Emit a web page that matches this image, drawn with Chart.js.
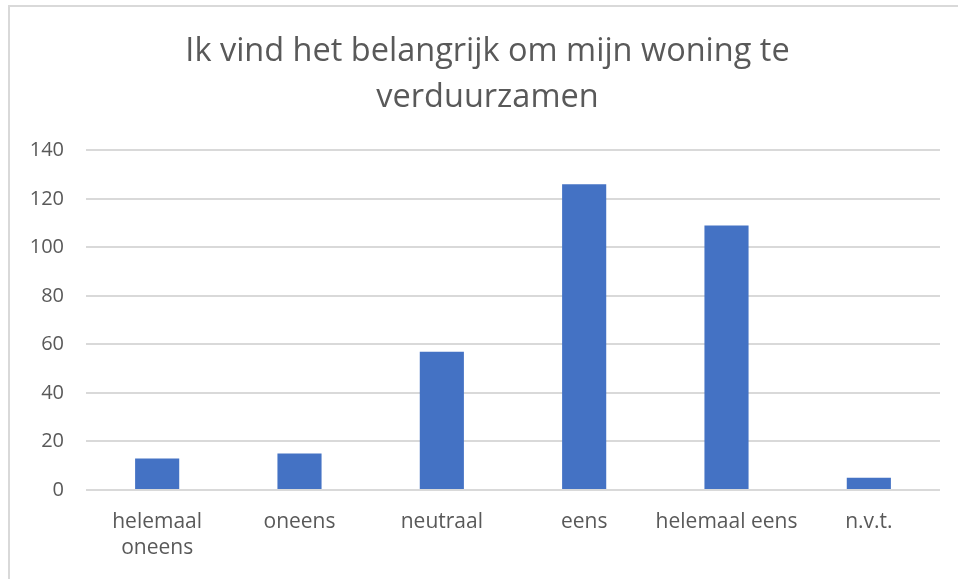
<!DOCTYPE html>
<html>
<head>
<meta charset="utf-8">
<script src="https://cdn.jsdelivr.net/npm/chart.js@4/dist/chart.umd.min.js"></script>
<style>
  html, body { margin: 0; padding: 0; background: #fff; }
  #wrap { position: relative; width: 958px; height: 579px; overflow: hidden; }
  #frame { position: absolute; left: 8px; top: 5px; width: 2000px; height: 2000px;
           border-left: 2px solid #d9d9d9; border-top: 2px solid #d9d9d9; box-sizing: border-box; }
  canvas { position: absolute; left: 0; top: 0; }
</style>
</head>
<body>
<div id="wrap">
  <div id="frame"></div>
  <canvas id="c" width="958" height="579"></canvas>
</div>
<script>
const titleLines = ["Ik vind het belangrijk om mijn woning te", "verduurzamen"];
const categories = [["helemaal", "oneens"], "oneens", "neutraal", "eens", "helemaal eens", "n.v.t."];
const values = [13, 15, 57, 126, 109, 5];
const yMin = 0;
const yMax = 140;
const yStep = 20;

const textColor = "#595959";
const fontFamily = "'Open Sans', 'Noto Sans', sans-serif";

// Center the title over the whole chart frame (which starts at x=8 and runs off the right edge)
const titleShift = {
  id: "titleShift",
  afterLayout(chart) {
    if (chart.titleBlock) { chart.titleBlock.left = 35; }
  }
};

new Chart(document.getElementById("c"), {
  type: "bar",
  data: {
    labels: categories,
    datasets: [{
      data: values,
      backgroundColor: "#4472C4",
      borderWidth: 0,
      categoryPercentage: 1,
      barPercentage: 0.31
    }]
  },
  plugins: [titleShift],
  options: {
    responsive: false,
    animation: false,
    devicePixelRatio: 1,
    layout: { padding: { left: 0, right: 18, top: 0, bottom: 0 } },
    plugins: {
      legend: { display: false },
      tooltip: { enabled: false },
      title: {
        display: true,
        text: titleLines,
        color: textColor,
        font: { family: fontFamily, size: 32.5, weight: "normal", lineHeight: 1.42 },
        padding: { top: 29, bottom: 29 }
      }
    },
    scales: {
      x: {
        grid: { display: false, drawTicks: false },
        border: { display: false },
        ticks: {
          color: textColor,
          font: { family: fontFamily, size: 21, lineHeight: 1.25 },
          padding: 19,
          maxRotation: 0,
          autoSkip: false
        },
        afterFit: (s) => { s.height = 89; }
      },
      y: {
        min: yMin,
        max: yMax,
        grid: { color: "#d9d9d9", lineWidth: 2, drawTicks: false },
        border: { display: false },
        ticks: {
          stepSize: yStep,
          color: textColor,
          font: { family: fontFamily, size: 20 },
          padding: 22
        },
        afterFit: (s) => { s.width = 86; }
      }
    }
  }
});
</script>
</body>
</html>
